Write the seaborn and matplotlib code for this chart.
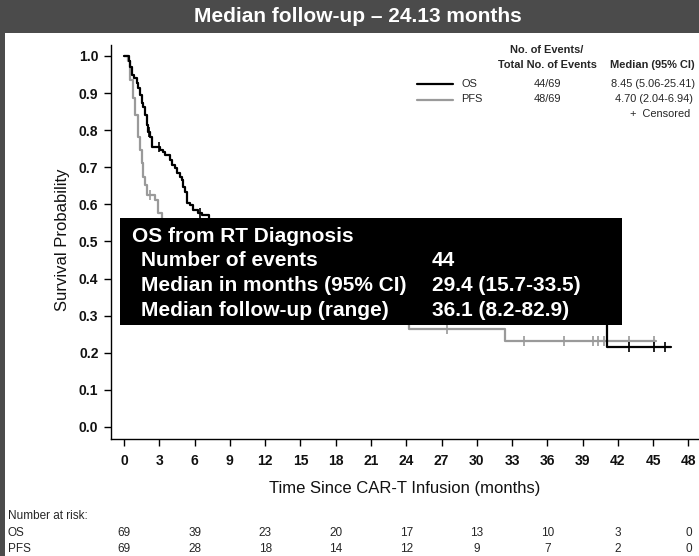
import matplotlib
matplotlib.use("Agg")
import numpy as np
import pandas as pd
import matplotlib.pyplot as plt
import seaborn as sns
from matplotlib.patches import Rectangle
from matplotlib.lines import Line2D

# ---- Kaplan-Meier step data (months, survival probability) ----
os_time = [0, 0.40, 0.50, 0.66, 0.85, 1.10, 1.19, 1.36, 1.50, 1.60, 1.79, 1.96, 2.07, 2.21, 2.36,
           3.06, 3.34, 3.49, 3.91, 4.06, 4.34, 4.49, 4.77, 4.91, 5.05, 5.19, 5.34, 5.62, 5.90,
           6.32, 6.61, 7.20, 8.45, 10.0, 12.0, 15.0, 18.0, 22.0, 26.0, 30.0, 35.0, 41.1, 46.5]
os_surv = [1.0, 0.987, 0.970, 0.949, 0.941, 0.927, 0.914, 0.895, 0.873, 0.863, 0.841, 0.814,
           0.795, 0.782, 0.755, 0.747, 0.741, 0.733, 0.720, 0.706, 0.698, 0.685, 0.674, 0.666,
           0.647, 0.633, 0.604, 0.598, 0.585, 0.577, 0.571, 0.555, 0.500, 0.470, 0.440, 0.400,
           0.370, 0.350, 0.330, 0.315, 0.295, 0.216, 0.216]
os_censor = [2.15, 2.99, 6.45, 42.9, 45.1, 46.0]

pfs_time = [0, 0.37, 0.50, 0.77, 0.94, 1.19, 1.36, 1.50, 1.62, 1.79, 1.96, 2.64, 2.89,
            3.20, 4.70, 6.0, 8.0, 10.0, 13.0, 17.0, 21.0, 24.2, 32.4, 45.2]
pfs_surv = [1.0, 0.987, 0.935, 0.887, 0.841, 0.782, 0.747, 0.712, 0.674, 0.652, 0.625, 0.612,
            0.577, 0.550, 0.500, 0.450, 0.400, 0.370, 0.340, 0.310, 0.285, 0.264, 0.232, 0.232]
pfs_censor = [2.21, 27.5, 34.0, 37.4, 39.9, 40.3, 40.8, 42.9, 45.1]

x_ticks = list(range(0, 49, 3))
y_ticks = [round(v * 0.1, 1) for v in range(11)]

risk_months = [0, 6, 12, 18, 24, 30, 36, 42, 48]
risk_os = [69, 39, 23, 20, 17, 13, 10, 3, 0]
risk_pfs = [69, 28, 18, 14, 12, 9, 7, 2, 0]

legend_rows = [("OS", "44/69", "8.45 (5.06-25.41)", "black"),
               ("PFS", "48/69", "4.70 (2.04-6.94)", "#9a9a9a")]

box_lines = [("OS from RT Diagnosis", ""),
             ("Number of events", "44"),
             ("Median in months (95% CI)", "29.4 (15.7-33.5)"),
             ("Median follow-up (range)", "36.1 (8.2-82.9)")]

title = "Median follow-up \u2013 24.13 months"

# ---- figure ----
sns.set_theme(style="white")
SANS = ["Liberation Sans", "DejaVu Sans"]
plt.rcParams["font.family"] = SANS

W, H = 699, 556
fig = plt.figure(figsize=(W / 100, H / 100), dpi=100)
fig.patch.set_facecolor("white")


def fx(x):
    return x / W


def fy(y):
    return 1 - y / H


DARK = "#4b4b4b"
fig.add_artist(Rectangle((0, fy(33)), 1, 1 - fy(33), transform=fig.transFigure,
                         facecolor=DARK, edgecolor="none", zorder=0))
fig.add_artist(Rectangle((0, 0), fx(5), 1, transform=fig.transFigure,
                         facecolor=DARK, edgecolor="none", zorder=0))
fig.text(fx(358), fy(17), title, color="white", fontsize=15, fontweight="bold",
         ha="center", va="center")

# axes geometry: x=0 -> px 124, 11.76 px/month; y=0 -> px 427, 371 px per unit
ax_l, ax_r, ax_t, ax_b = 111, 730, 45, 439
ax = fig.add_axes([fx(ax_l), fy(ax_b), fx(ax_r) - fx(ax_l), fy(ax_t) - fy(ax_b)])
ax.set_facecolor("none")
ppm = 11.76
ax.set_xlim((ax_l - 124) / ppm, (ax_r - 124) / ppm)
ax.set_ylim((427 - ax_b) / 371, (427 - ax_t) / 371)

os_df = pd.DataFrame({"t": os_time, "s": os_surv})
pfs_df = pd.DataFrame({"t": pfs_time, "s": pfs_surv})

sns.lineplot(data=pfs_df, x="t", y="s", drawstyle="steps-post", estimator=None,
             color="#9a9a9a", lw=1.6, ax=ax, zorder=2)
sns.lineplot(data=os_df, x="t", y="s", drawstyle="steps-post", estimator=None,
             color="black", lw=1.6, ax=ax, zorder=3)


def step_value(times, surv, t):
    i = np.searchsorted(np.asarray(times), t, side="right") - 1
    return surv[i]


pfs_c = pd.DataFrame({"t": pfs_censor,
                      "s": [step_value(pfs_time, pfs_surv, t) for t in pfs_censor]})
os_c = pd.DataFrame({"t": os_censor,
                     "s": [step_value(os_time, os_surv, t) for t in os_censor]})
sns.scatterplot(data=pfs_c, x="t", y="s", marker="|", s=50, color="#9a9a9a",
                linewidth=1.2, ax=ax, zorder=2)
sns.scatterplot(data=os_c, x="t", y="s", marker="|", s=50, color="black",
                linewidth=1.2, ax=ax, zorder=3)

for side in ("top", "right"):
    ax.spines[side].set_visible(False)
for side in ("left", "bottom"):
    ax.spines[side].set_color("black")
    ax.spines[side].set_linewidth(1.0)

ax.set_xticks(x_ticks)
ax.set_xticklabels([str(v) for v in x_ticks])
ax.set_yticks(y_ticks)
ax.set_yticklabels([f"{v:.1f}" for v in y_ticks])
ax.tick_params(axis="both", which="major", direction="out", length=5, width=1,
               color="black", left=True, bottom=True)
ax.tick_params(axis="y", pad=4)
ax.tick_params(axis="x", pad=6)
for lab in ax.get_yticklabels() + ax.get_xticklabels():
    lab.set_fontweight("bold")
    lab.set_fontsize(10)
    lab.set_color("#111111")
ax.set_xlabel("")
ax.set_ylabel("")
ax.grid(False)

fig.text(fx(405), fy(489), "Time Since CAR-T Infusion (months)", fontsize=12,
         ha="center", va="center", color="#111111")
fig.text(fx(62), fy(240), "Survival Probability", fontsize=12, rotation=90,
         ha="center", va="center", color="#111111")

# ---- legend block ----
LF = 7.9
fig.text(fx(547), fy(50), "No. of Events/", fontsize=LF, fontweight="bold",
         ha="center", va="center")
fig.text(fx(547), fy(65), "Total No. of Events", fontsize=LF, fontweight="bold",
         ha="center", va="center")
fig.text(fx(610), fy(65), "Median (95% CI)", fontsize=LF, fontweight="bold",
         ha="left", va="center")
for k, (name, ev, med, col) in enumerate(legend_rows):
    yy = 84 + 15.5 * k
    fig.add_artist(Line2D([fx(417), fx(453)], [fy(yy), fy(yy)], transform=fig.transFigure,
                          color=col, lw=1.6))
    fig.text(fx(461), fy(yy), name, fontsize=LF, ha="left", va="center")
    fig.text(fx(547), fy(yy), ev, fontsize=LF, ha="center", va="center")
    fig.text(fx(611 + 4 * k), fy(yy), med, fontsize=LF, ha="left", va="center")
fig.text(fx(630), fy(114), "+  Censored", fontsize=LF, ha="left", va="center")

# ---- summary box ----
fig.add_artist(Rectangle((fx(120), fy(325)), fx(622) - fx(120), fy(218) - fy(325),
                         transform=fig.transFigure, facecolor="black", edgecolor="none",
                         zorder=5))
BF = 15
for k, (lab, val) in enumerate(box_lines):
    yy = 236 + 24.7 * k
    xx = 132 if k == 0 else 141
    fig.text(fx(xx), fy(yy), lab, color="white", fontsize=BF, fontweight="bold",
             ha="left", va="center", zorder=6)
    if val:
        fig.text(fx(432), fy(yy), val, color="white", fontsize=BF, fontweight="bold",
                 ha="left", va="center", zorder=6)

# ---- number at risk ----
fig.text(fx(8), fy(516), "Number at risk:", fontsize=8.5, ha="left", va="center")
for row_y, name, vals in ((533, "OS", risk_os), (549, "PFS", risk_pfs)):
    fig.text(fx(8), fy(row_y), name, fontsize=8.5, ha="left", va="center")
    for m, v in zip(risk_months, vals):
        xp = ax.transData.transform((m, 0))[0] / fig.dpi / fig.get_figwidth()
        fig.text(xp, fy(row_y), str(v), fontsize=8.5, ha="center", va="center")

fig.savefig("out.png", dpi=100)
